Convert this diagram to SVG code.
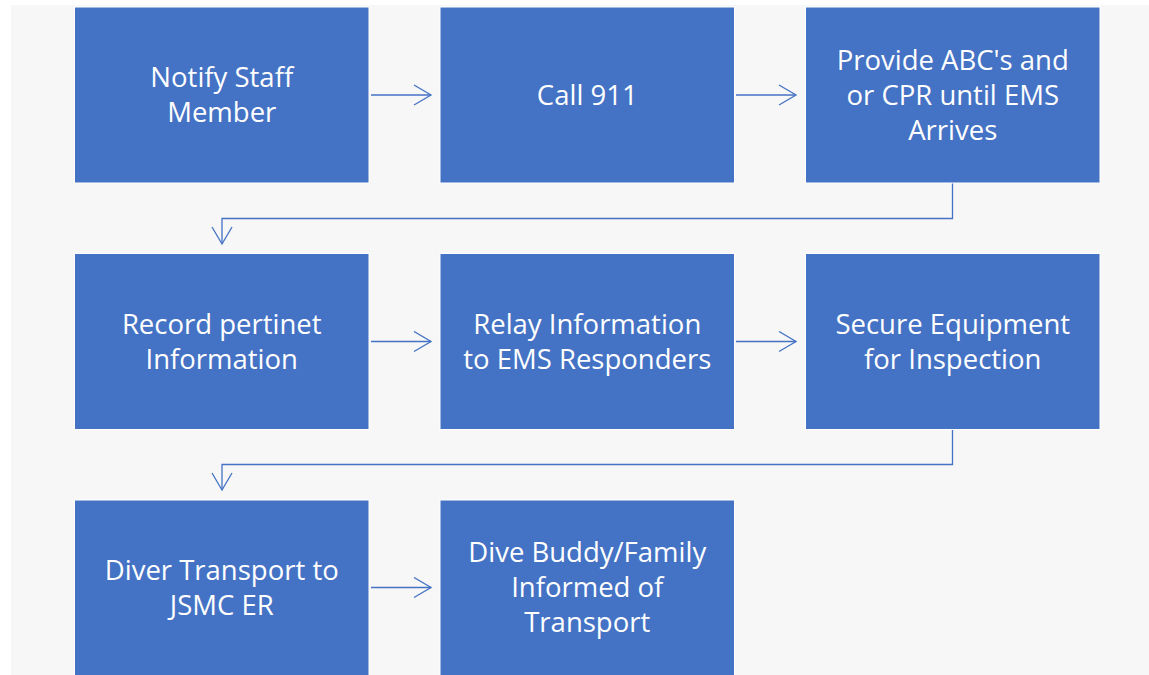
<svg xmlns="http://www.w3.org/2000/svg" width="1149" height="675" viewBox="0 0 1149 675">
<defs>
<style>
.box{fill:#4472C4;stroke:#ffffff;stroke-width:1}
.lbl{fill:#ffffff;font-family:"Open Sans","Liberation Sans",sans-serif;font-size:27.5px;text-anchor:middle}
.con{fill:none;stroke:#4472C4;stroke-width:1.3}
</style>
<marker id="ah" viewBox="0 0 20 22" refX="18" refY="11" markerWidth="20" markerHeight="22" markerUnits="userSpaceOnUse" orient="auto">
<path d="M1,1 L18,11 L1,21" fill="none" stroke="#4472C4" stroke-width="1.3"/>
</marker>
</defs>
<rect x="0" y="0" width="1149" height="675" fill="#ffffff"/>
<rect x="11" y="5" width="1138" height="670" fill="#f7f7f7"/>
<g id="connectors">
<line class="con" x1="371" y1="95" x2="431" y2="95" marker-end="url(#ah)"/>
<line class="con" x1="736" y1="95" x2="796" y2="95" marker-end="url(#ah)"/>
<polyline class="con" points="952.5,183 952.5,218.5 222,218.5 222,244" marker-end="url(#ah)"/>
<line class="con" x1="371" y1="341.5" x2="431" y2="341.5" marker-end="url(#ah)"/>
<line class="con" x1="736" y1="341.5" x2="796" y2="341.5" marker-end="url(#ah)"/>
<polyline class="con" points="952.5,429.5 952.5,464.5 222,464.5 222,490" marker-end="url(#ah)"/>
<line class="con" x1="371" y1="587.5" x2="431" y2="587.5" marker-end="url(#ah)"/>
</g>
<g id="n1"><rect class="box" x="74.5" y="7" width="294.5" height="176"/>
<text class="lbl" x="221.75" y="87">Notify Staff</text><text class="lbl" x="221.75" y="122">Member</text></g>
<g id="n2"><rect class="box" x="440" y="7" width="294.5" height="176"/>
<text class="lbl" x="587.25" y="104.5">Call 911</text></g>
<g id="n3"><rect class="box" x="805.5" y="7" width="294.5" height="176"/>
<text class="lbl" x="952.75" y="69.5">Provide ABC's and</text><text class="lbl" x="952.75" y="104.5">or CPR until EMS</text><text class="lbl" x="952.75" y="139.5">Arrives</text></g>
<g id="n4"><rect class="box" x="74.5" y="253.5" width="294.5" height="176"/>
<text class="lbl" x="221.75" y="333.5">Record pertinet</text><text class="lbl" x="221.75" y="368.5">Information</text></g>
<g id="n5"><rect class="box" x="440" y="253.5" width="294.5" height="176"/>
<text class="lbl" x="587.25" y="333.5">Relay Information</text><text class="lbl" x="587.25" y="368.5">to EMS Responders</text></g>
<g id="n6"><rect class="box" x="805.5" y="253.5" width="294.5" height="176"/>
<text class="lbl" x="952.75" y="333.5">Secure Equipment</text><text class="lbl" x="952.75" y="368.5">for Inspection</text></g>
<g id="n7"><rect class="box" x="74.5" y="500" width="294.5" height="176"/>
<text class="lbl" x="221.75" y="579.5">Diver Transport to</text><text class="lbl" x="221.75" y="614.5">JSMC ER</text></g>
<g id="n8"><rect class="box" x="440" y="500" width="294.5" height="176"/>
<text class="lbl" x="587.25" y="562">Dive Buddy/Family</text><text class="lbl" x="587.25" y="597">Informed of</text><text class="lbl" x="587.25" y="632">Transport</text></g>
</svg>
